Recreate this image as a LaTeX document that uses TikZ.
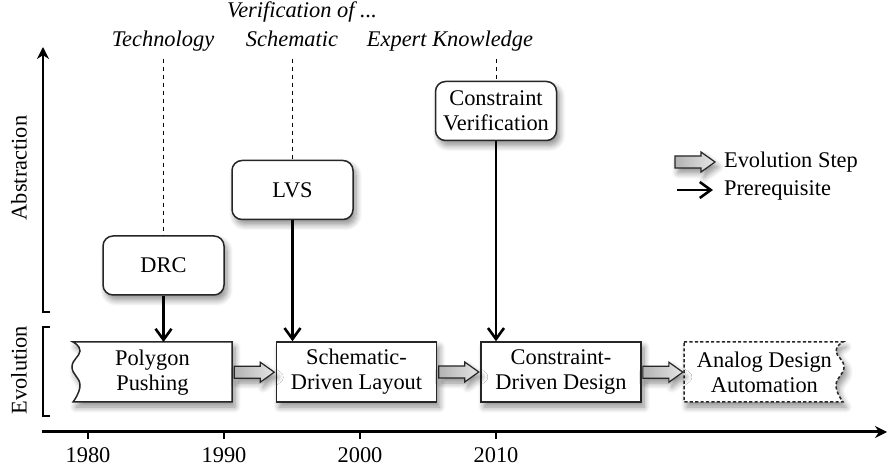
\documentclass[tikz,border=0pt]{standalone}
\usepackage{fontspec}
\setmainfont{Liberation Serif}
\usetikzlibrary{arrows.meta,calc,shadows.blur}

\begin{document}
\begin{tikzpicture}[x=0.5pt,y=-0.5pt,
  font=\fontsize{11.2}{12.6}\selectfont,
  dropshadow/.style={blur shadow={shadow xshift=1.5pt,shadow yshift=-2.5pt,
      shadow blur radius=3pt,shadow blur steps=8,shadow opacity=45}},
  outline/.style={draw=black!85,line width=0.75pt},
  era/.style={minimum width=80pt,minimum height=30pt,inner sep=0pt,align=center},
  erabox/.style={era,outline,fill=white,dropshadow},
  check/.style={outline,fill=white,rounded corners=5pt,minimum width=60.5pt,
      minimum height=29.5pt,inner sep=0pt,align=center,dropshadow},
  prereq/.style={line width=1.3pt,-{Straight Barb[length=5.5pt,width=8pt]}},
  link/.style={dash pattern=on 2pt off 2pt,line width=0.5pt},
  timeaxis/.style={line width=1.5pt},
  bracket/.style={line width=1.3pt},
  tickmark/.style={line width=1.3pt},
  topic/.style={font=\fontsize{11.2}{12.6}\selectfont\itshape,anchor=base},
  year/.style={anchor=base},
  evostep/.pic={
    \draw[draw=black!85,line width=0.6pt,left color=gray!60,right color=gray!20,dropshadow]
      (-20,-6) -- (6,-6) -- (6,-10) -- (20,0) -- (6,10) -- (6,6) -- (-20,6) -- cycle;
  },
]
\useasboundingbox (0,0) rectangle (888,469);

% --- axes -------------------------------------------------------------
\coordinate (tstart) at (42,432);
\coordinate (tend) at (887,432);
\draw[timeaxis,-{Stealth[length=6pt,width=6pt]}] (tstart) -- (tend);
\foreach \x/\yr in {88/1980,224/1990,360/2000,496/2010}{
  \draw[tickmark] (\x,432) -- (\x,439);
  \node[year] (y\yr) at (\x,463) {\yr};
}

\coordinate (absfoot) at (50,312);
\draw[bracket,-{Stealth[length=6pt,width=6pt]}] (absfoot) -- (43,312) -- (43,47);
\coordinate (evotop) at (50,327);
\coordinate (evobot) at (50,416);
\draw[bracket] (evotop) -- (43,327) -- (43,416) -- (evobot);
\node[rotate=90] (abstraction) at (19,168) {Abstraction};
\node[rotate=90] (evolution) at (19,370) {Evolution};

% --- evolution steps --------------------------------------------------
% tape-like frame with a wavy left edge
\coordinate (ppcorner) at (72,342);
\begin{scope}[shift={(ppcorner)}]
  \draw[outline,fill=white,dropshadow]
    (1,0) -- (160,0) -- (160,60) -- (1,60)
    -- plot[smooth,tension=0.8] coordinates {(1,60) (8,43) (0,25) (8,9) (1,0)} -- cycle;
\end{scope}
\node[era,anchor=north west] (pp) at (ppcorner) {Polygon\\Pushing};

\node[erabox] (sdl) at (356.5,372) {Schematic-\\Driven Layout};
\node[erabox] (cdd) at (561,372) {Constraint-\\Driven Design};

% dashed frame with a wavy right edge
\coordinate (adacorner) at (684,342);
\begin{scope}[shift={(adacorner)}]
  \draw[outline,dash pattern=on 1.6pt off 1.1pt,fill=white,dropshadow]
    (0,0) -- (159,0)
    -- plot[smooth,tension=0.8] coordinates {(159,0) (152,9) (160,25) (152,43) (159,60)}
    -- (0,60) -- cycle;
\end{scope}
\node[era,anchor=north west] (ada) at (adacorner) {Analog Design\\Automation};

\pic at ($(pp.east)!0.5!(sdl.west)$) {evostep};
\pic at ($(sdl.east)!0.5!(cdd.west)$) {evostep};
\pic at ($(cdd.east)!0.5!(ada.west)$) {evostep};

% --- verification checks ----------------------------------------------
\node[check] (drc) at (163.5,265.5) {DRC};
\node[check] (lvs) at (292.5,190) {LVS};
\node[check] (cv) at (496,111) {Constraint\\Verification};

\draw[prereq] (drc.south) -- (drc.south |- pp.north);
\draw[prereq] (lvs.south) -- (lvs.south |- sdl.north);
\draw[prereq] (cv.south) -- (cv.south |- cdd.north);

% --- what is verified -------------------------------------------------
\node[topic] (verof) at (302,17.5) {Verification of ...};
\node[topic] (tech) at (163,46.5) {Technology};
\node[topic] (schem) at (292,46.5) {Schematic};
\node[topic] (expert) at (450,46.5) {Expert Knowledge};

\coordinate (techlink) at (163.5,59);
\coordinate (schemlink) at (292.5,59);
\coordinate (expertlink) at (496,59);
\draw[link] (techlink) -- (drc.north);
\draw[link] (schemlink) -- (lvs.north);
\draw[link] (expertlink) -- (cv.north);

% --- legend -----------------------------------------------------------
\pic at (695,162) {evostep};
\coordinate (legfrom) at (677,190);
\coordinate (legto) at (713,190);
\draw[prereq] (legfrom) -- (legto);
\node[anchor=west] (legstep) at (717,162) {Evolution Step};
\node[anchor=west] (legpre) at (717,190) {Prerequisite};
\end{tikzpicture}
\end{document}
